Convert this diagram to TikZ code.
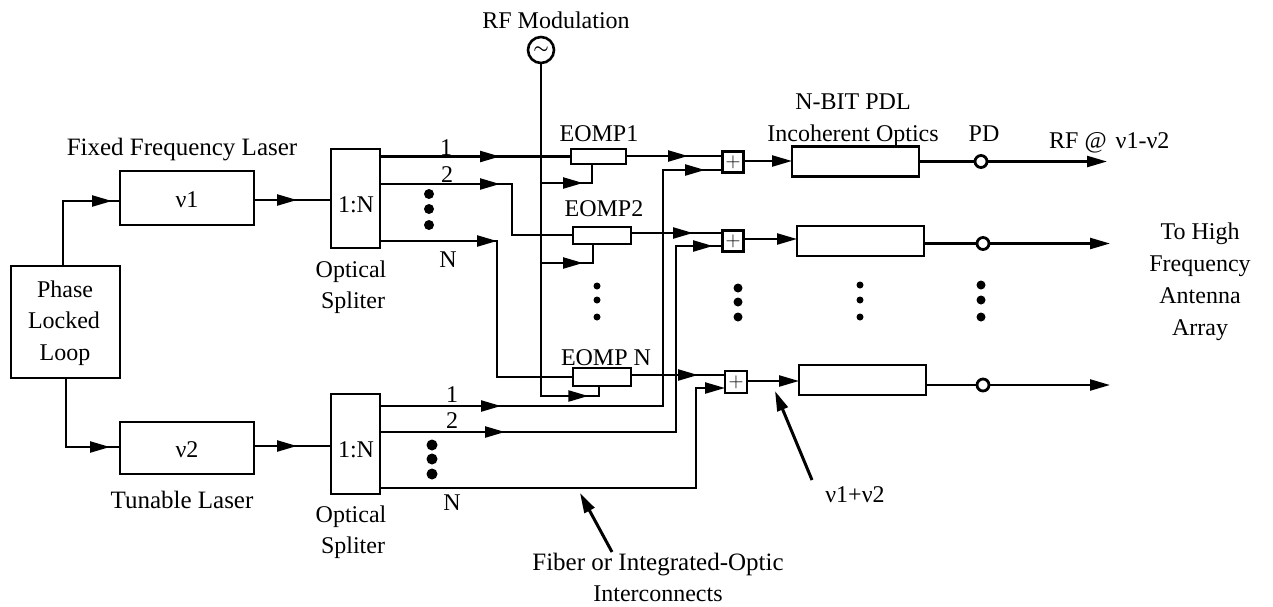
\documentclass[tikz,border=0pt]{standalone}
\usepackage{fontspec}
\setmainfont{Liberation Serif}
\usetikzlibrary{arrows.meta,decorations.markings}
\tikzset{
  >={Triangle[length=20pt,width=11pt]},
  wire/.style={line width=2.3pt},
  marrow/.style={postaction={decorate,decoration={markings,mark=at position #1pt with {\arrow{>}}}}},
  blockbox/.style={draw,line width=2.2pt,fill=white,inner sep=0pt,outer sep=0pt,font=\fontsize{24}{24}\selectfont},
  label/.style={anchor=base,inner sep=0pt,font=\fontsize{24}{24}\selectfont},
  biglabel/.style={anchor=base,inner sep=0pt,font=\fontsize{25}{25}\selectfont},
  mixer/.style={draw,line width=2.2pt,fill=white,inner sep=0pt,outer sep=0pt,minimum width=21pt,minimum height=21pt,font=\fontsize{22}{22}\selectfont},
  pd/.style={circle,draw,line width=2.8pt,fill=white,inner sep=0pt,minimum size=12pt,outer sep=0pt},
  dotmark/.style={circle,fill=black,inner sep=0pt,minimum size=#1pt}
}
\begin{document}
\begin{tikzpicture}[x=1pt,y=-1pt]
\useasboundingbox (0,0) rectangle (1273,606);
\fill[white] (0,0) rectangle (1273,606);
% blocks
\node[blockbox,minimum width=109pt,minimum height=112pt] (pll) at (65.5,322) {};
\node[blockbox,minimum width=134pt,minimum height=54pt] (v1) at (187,198) {};
\node[blockbox,minimum width=134pt,minimum height=52pt] (v2) at (187,448) {};
\node[blockbox,minimum width=49pt,minimum height=99pt] (s1) at (355.5,198.5) {};
\node[blockbox,minimum width=49pt,minimum height=100pt] (s2) at (355.5,444) {};
\node[blockbox,minimum width=55pt,minimum height=15pt] (e1) at (598.5,156.5) {};
\node[blockbox,minimum width=58pt,minimum height=17pt] (e2) at (602,235.5) {};
\node[blockbox,minimum width=58pt,minimum height=18pt] (e3) at (602,377) {};
\node[mixer] (m1) at (733,162) {$+$};
\node[mixer] (m2) at (733,241) {$+$};
\node[mixer,minimum width=22pt,minimum height=22pt] (m3) at (736,382) {$+$};
\node[blockbox,minimum width=127pt,minimum height=30pt] (d1) at (855.5,161.5) {};
\node[blockbox,minimum width=127pt,minimum height=30pt] (d2) at (860.5,241) {};
\node[blockbox,minimum width=127pt,minimum height=30pt] (d3) at (862.5,380) {};
\node[pd] (p1) at (981,161.5) {};
\node[pd] (p2) at (983,243.5) {};
\node[pd] (p3) at (983,385) {};
\node[circle,draw,line width=2.6pt,inner sep=0pt,minimum size=26pt,font=\fontsize{17}{17}\selectfont\boldmath] (rf) at (541,50) {$\sim$};
% free ends and bends
\coordinate (o1) at (1107,161.5);
\coordinate (o2) at (1110,243.5);
\coordinate (o3) at (1110,385);
\coordinate (pt) at (63,266); \coordinate (pb) at (66,378);
\coordinate (va) at (120,201); \coordinate (vb) at (120,447);
\coordinate (v1o) at (254,200); \coordinate (v2o) at (254,446);
\coordinate (s1i) at (331,200); \coordinate (s2i) at (331,446);
\coordinate (s1a) at (380,156.5); \coordinate (s1b) at (380,184); \coordinate (s1c) at (380,241);
\coordinate (s2a) at (380,406); \coordinate (s2b) at (380,432); \coordinate (s2c) at (380,488);
\coordinate (e2in) at (573,235); \coordinate (e3in) at (573,377);
\coordinate (j1) at (541,183); \coordinate (j2) at (541,263);
\coordinate (e1b) at (592,164); \coordinate (e2b) at (593,244); \coordinate (e3b) at (599,386);
\coordinate (m1a) at (723,156); \coordinate (m1b) at (723,170);
\coordinate (m2a) at (723,233); \coordinate (m2b) at (723,246);
\coordinate (m3a) at (725,375); \coordinate (m3b) at (725,388);
\coordinate (m1o) at (743,161); \coordinate (m2o) at (743,239); \coordinate (m3o) at (747,381);
\coordinate (d1i) at (792,161); \coordinate (d2i) at (797,239); \coordinate (d3i) at (799,381);
\coordinate (e1o) at (626,156); \coordinate (e2o) at (631,233); \coordinate (e3o) at (631,375);
\coordinate (a1s) at (812,480); \coordinate (a1e) at (775,391);
\coordinate (a2s) at (612,552); \coordinate (a2e) at (580,493);
% connectors
\draw[wire,marrow=114] (pt) |- (va);
\draw[wire,marrow=113] (pb) |- (vb);
\draw[wire,marrow=43] (v1o) -- (s1i);
\draw[wire,marrow=43] (v2o) -- (s2i);
\draw[wire,marrow=120] (s1a) -- (e1.west);
\draw[wire,marrow=120] (s1b) -| (512,235) -- (e2in);
\draw[wire,marrow=117] (s1c) -- (497,241) -- (497,377) -- (e3in);
\draw[wire,marrow=379] (rf.south) -- (541,396) -- (599,396) -- (e3b);
\draw[wire,marrow=42] (j1) -| (e1b);
\draw[wire,marrow=42] (j2) -| (e2b);
\draw[wire,marrow=62] (e1o) -- (m1a);
\draw[wire,marrow=62] (e2o) -- (m2a);
\draw[wire,marrow=67] (e3o) -- (m3a);
\draw[wire,marrow=121,marrow=561] (s2a) -| (663,170) -- (m1b);
\draw[wire,marrow=125,marrow=519] (s2b) -| (676,246) -- (m2b);
\draw[wire,->] (s2c) -- (696,488) -- (696,388) -- (m3b);
\draw[wire,->] (m1o) -- (d1i);
\draw[wire,->] (m2o) -- (d2i);
\draw[wire,->] (m3o) -- (d3i);
\draw[wire] (d1.east) -- (p1);
\draw[wire] (d2.east |- p2) -- (p2);
\draw[wire] (d3.east |- p3) -- (p3);
\draw[wire,->] (p1) -- (o1);
\draw[wire,->] (p2) -- (o2);
\draw[wire,->] (p3) -- (o3);
\draw[line width=3pt,->] (a1s) -- (a1e);
\draw[line width=3pt,->] (a2s) -- (a2e);
% dots
\foreach \n/\x/\y/\s in {a/429/194/10,b/429/209/10,c/429/225/10,d/432/445/11,e/432/459/11,f/432/474/11,
  g/597/286/7,h/597/300/7,i/597/317/7,j/738/288/9,k/738/302/9,l/738/317/9,
  m/860/285/7,n/860/300/7,o/860/317/7,p/981/285/9,q/981/300/9,r/981/317/9}
  \node[dotmark=\s] (dot\n) at (\x,\y) {};
% labels
\node[label] (t1) at (556,28) {RF Modulation};
\node[biglabel] (t2) at (182,155) {Fixed Frequency Laser};
\node[biglabel] (t3) at (182,508) {Tunable Laser};
\node[label] (t4) at (187,207) {ν1};
\node[label] (t5) at (187,457) {ν2};
\node[label] (t6) at (65,297) {Phase};
\node[label] (t7) at (64,328) {Locked};
\node[label] (t8) at (65,360) {Loop};
\node[label] (t9) at (356,212) {1:N};
\node[label] (t10) at (356,457) {1:N};
\node[label] (t11) at (351,277) {Optical};
\node[label] (t12) at (353,308) {Spliter};
\node[label] (t13) at (351,522) {Optical};
\node[label] (t14) at (353,553) {Spliter};
\node[label] (t15) at (446,155) {1};
\node[label] (t16) at (447,182) {2};
\node[label] (t17) at (448,267) {N};
\node[label] (t18) at (452,402) {1};
\node[label] (t19) at (452,428) {2};
\node[label] (t20) at (452,510) {N};
\node[label] (t21) at (599,141) {EOMP1};
\node[label] (t22) at (604,216) {EOMP2};
\node[label] (t23) at (606,365) {EOMP N};
\node[label] (t24) at (853,109) {N-BIT PDL};
\node[label] (t25) at (853,141) {Incoherent Optics};
\node[label] (t26) at (984,141) {PD};
\node[label,anchor=base west] (t27) at (1049,148) {RF @\hspace{3pt} ν1-ν2};
\node[label] (t28) at (1200,239) {To High};
\node[label] (t29) at (1200,271) {Frequency};
\node[label] (t30) at (1200,303) {Antenna};
\node[label] (t31) at (1200,335) {Array};
\node[label] (t32) at (855,502) {ν1+ν2};
\node[biglabel] (t33) at (658,570) {Fiber or Integrated-Optic};
\node[label] (t34) at (658,601) {Interconnects};
\end{tikzpicture}
\end{document}
